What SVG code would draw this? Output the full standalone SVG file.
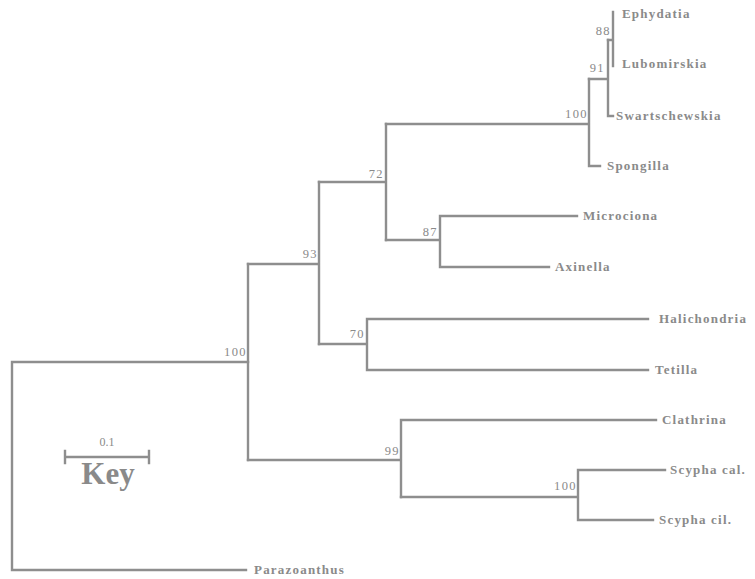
<svg xmlns="http://www.w3.org/2000/svg" width="755" height="579" viewBox="0 0 755 579">
<style>
.e{fill:none;stroke:#8e8e8e;stroke-width:2.4;stroke-linecap:square}
.t{font-family:"Liberation Serif",serif;font-size:13px;font-weight:bold;fill:#8a8a8a;letter-spacing:1.2px}
.b{font-family:"Liberation Serif",serif;font-size:12.5px;fill:#8a8a8a;text-anchor:end;letter-spacing:1.4px}
</style>
<rect width="755" height="579" fill="#fff"/>
<g id="connectors">
<path class="e" d="M246,570 H12 V362 H248"/>
<path class="e" d="M248,264 V460"/>
<path class="e" d="M248,264 H319 M319,182 V344"/>
<path class="e" d="M319,182 H386 M386,124 V240"/>
<path class="e" d="M386,124 H589 M589,79 V166 H600"/>
<path class="e" d="M589,79 H608 M608,40 V116 H613"/>
<path class="e" d="M608,40 H613 M613,12 V66"/>
<path class="e" d="M386,240 H440 M440,216 V267 M440,216 H577 M440,267 H549"/>
<path class="e" d="M319,344 H367 M367,319 V370 M367,319 H648 M367,370 H648"/>
<path class="e" d="M248,460 H401 M401,420 V497 M401,420 H656"/>
<path class="e" d="M401,497 H578 M578,470 V520 M578,470 H665 M578,520 H653"/>
</g>
<g id="bootstrap">
<text class="b" x="611" y="35">88</text>
<text class="b" x="605" y="72">91</text>
<text class="b" x="588" y="118">100</text>
<text class="b" x="384" y="178">72</text>
<text class="b" x="438" y="236">87</text>
<text class="b" x="318" y="258">93</text>
<text class="b" x="247" y="356">100</text>
<text class="b" x="365" y="338">70</text>
<text class="b" x="400" y="455">99</text>
<text class="b" x="577" y="490">100</text>
</g>
<g id="n-ephydatia"><text class="t" x="622" y="18">Ephydatia</text></g>
<g id="n-lubomirskia"><text class="t" x="622" y="68">Lubomirskia</text></g>
<g id="n-swartschewskia"><text class="t" x="616" y="120">Swartschewskia</text></g>
<g id="n-spongilla"><text class="t" x="607" y="170">Spongilla</text></g>
<g id="n-microciona"><text class="t" x="583" y="220">Microciona</text></g>
<g id="n-axinella"><text class="t" x="555" y="271">Axinella</text></g>
<g id="n-halichondria"><text class="t" x="659" y="323">Halichondria</text></g>
<g id="n-tetilla"><text class="t" x="655" y="374">Tetilla</text></g>
<g id="n-clathrina"><text class="t" x="662" y="424">Clathrina</text></g>
<g id="n-scyphacal"><text class="t" x="670" y="474">Scypha cal.</text></g>
<g id="n-scyphacil"><text class="t" x="659" y="524">Scypha cil.</text></g>
<g id="n-parazoanthus"><text class="t" x="254" y="574">Parazoanthus</text></g>
<g id="key">
<path class="e" d="M65,457 H149 M65,451 V463 M149,451 V463"/>
<text x="107" y="446" font-family="Liberation Serif,serif" font-size="12" fill="#8a8a8a" text-anchor="middle">0.1</text>
<text x="108" y="484" font-family="Liberation Serif,serif" font-size="31" font-weight="bold" fill="#8a8a8a" text-anchor="middle">Key</text>
</g>
</svg>
